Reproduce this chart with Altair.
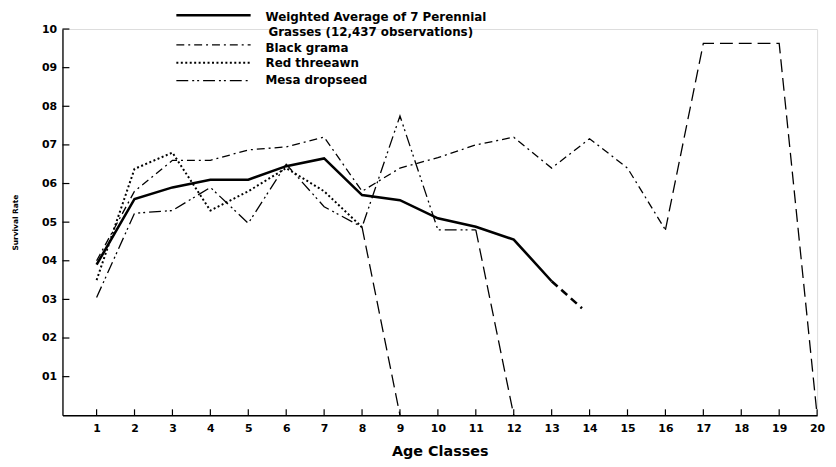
import altair as alt
import pandas as pd

# ---- data ----
avg_ages = [1, 2, 3, 4, 5, 6, 7, 8, 9, 10, 11, 12, 13]
avg_vals = [0.39, 0.56, 0.59, 0.61, 0.61, 0.645, 0.665, 0.57, 0.557, 0.51, 0.488, 0.455, 0.347]
avg_ext_ages = [13, 13.8]
avg_ext_vals = [0.347, 0.277]

bg_ages = [1, 2, 3, 4, 5, 6, 7, 8, 9, 10, 11, 12, 13, 14, 15, 16]
bg_vals = [0.40, 0.58, 0.66, 0.66, 0.687, 0.695, 0.72, 0.58, 0.64, 0.667, 0.70, 0.72, 0.64, 0.716, 0.64, 0.48]
bg_ext_ages = [16, 17, 19, 20]
bg_ext_vals = [0.48, 0.963, 0.963, 0.0]

rt_ages = [1, 2, 3, 4, 5, 6, 7, 8]
rt_vals = [0.35, 0.638, 0.68, 0.53, 0.58, 0.64, 0.58, 0.487]
rt_ext_ages = [8, 9]
rt_ext_vals = [0.487, 0.0]

md_ages = [1, 2, 3, 4, 5, 6, 7, 8, 9, 10, 11]
md_vals = [0.305, 0.523, 0.53, 0.59, 0.497, 0.65, 0.54, 0.487, 0.775, 0.48, 0.48]
md_ext_ages = [11, 12]
md_ext_vals = [0.48, 0.0]

x_ticks = list(range(1, 21))
y_ticks = [0.1, 0.2, 0.3, 0.4, 0.5, 0.6, 0.7, 0.8, 0.9, 1.0]

legend_lines = [
    "Weighted Average of 7 Perennial",
    "Grasses (12,437 observations)",
    "Black grama",
    "Red threeawn",
    "Mesa dropseed",
]

FONT = "DejaVu Sans"
W, H = 762, 390

xscale = alt.Scale(domain=[0.1, 20], nice=False, zero=False)
yscale = alt.Scale(domain=[0, 1], nice=False, zero=False)

x_axis = alt.Axis(values=x_ticks, format="d", ticks=False, tickSize=0, grid=False,
                  labelPadding=7, labelFontSize=11, labelFont=FONT, labelFontWeight="bold",
                  labelColor="black", domainColor="black", domainWidth=1.3,
                  title="Age Classes", titleFontSize=14.5, titleFont=FONT, titleFontWeight="bold",
                  titlePadding=12, titleColor="black", labelFlush=False)
y_axis = alt.Axis(values=y_ticks, ticks=False, tickSize=0, grid=False,
                  labelExpr="format(round(datum.value*10), '02d')",
                  labelPadding=6, labelFontSize=11, labelFont=FONT, labelFontWeight="bold",
                  labelColor="black", domainColor="black", domainWidth=1.3,
                  title="Survival Rate", titleFontSize=7.5, titleFont=FONT, titleFontWeight="bold",
                  titlePadding=22, titleColor="black", labelFlush=False)

XENC = alt.X("age:Q", scale=xscale, axis=x_axis, title="Age Classes")
YENC = alt.Y("rate:Q", scale=yscale, axis=y_axis, title="Survival Rate")


def series(ages, vals):
    return pd.DataFrame({"age": ages, "rate": vals})


def line(df, dash=None, width=1.3):
    kw = dict(color="black", strokeWidth=width, clip=False)
    if dash:
        kw["strokeDash"] = dash
    return alt.Chart(df).mark_line(**kw).encode(x=XENC, y=YENC)


LONG = [13, 6]
layers = [
    line(series(avg_ages, avg_vals), None, 2.6),
    line(series(avg_ext_ages, avg_ext_vals), [8, 5], 2.6),
    line(series(bg_ages, bg_vals), [8, 4, 2, 4], 1.3),
    line(series(bg_ext_ages, bg_ext_vals), LONG, 1.3),
    line(series(rt_ages, rt_vals), [2, 2.5], 2.0),
    line(series(rt_ext_ages, rt_ext_vals), LONG, 1.3),
    line(series(md_ages, md_vals), [12, 4, 2, 3, 2, 4], 1.3),
    line(series(md_ext_ages, md_ext_vals), LONG, 1.3),
]

# inward ticks
xt = alt.Chart(pd.DataFrame({"age": x_ticks})).mark_rule(color="black", strokeWidth=1.2).encode(
    x=XENC, y=alt.value(H), y2=alt.value(H - 6))
yt = alt.Chart(pd.DataFrame({"rate": y_ticks})).mark_rule(color="black", strokeWidth=1.2).encode(
    y=YENC, x=alt.value(0), x2=alt.value(7))
layers += [xt, yt]

# legend
one = pd.DataFrame({"a": [0]})
leg_styles = [(None, 2.6, -14), ([8, 4, 2, 4], 1.3, 16), ([2, 2.5], 2.0, 34), ([12, 4, 2, 3, 2, 4], 1.3, 52)]
for dash, wdt, yy in leg_styles:
    kw = dict(color="black", strokeWidth=wdt)
    if dash:
        kw["strokeDash"] = dash
    layers.append(alt.Chart(one).mark_rule(**kw).encode(
        x=alt.value(115), x2=alt.value(190), y=alt.value(yy)))
leg_text_y = [-12, 3, 19, 34, 51]
for txt, yy in zip(legend_lines, leg_text_y):
    layers.append(alt.Chart(one).mark_text(align="left", baseline="middle", font=FONT,
                                           fontSize=12, fontWeight="bold", color="black").encode(
        x=alt.value(205 if txt != legend_lines[1] else 208), y=alt.value(yy), text=alt.value(txt)))

chart = alt.layer(*layers).properties(
    width=W, height=H,
    autosize=alt.AutoSizeParams(type="none"),
    padding={"left": 55, "top": 19, "right": 11, "bottom": 50},
).configure_view(stroke=None).configure(background="white")

chart.save("out.html", embed_options={"renderer": "svg", "actions": False})
